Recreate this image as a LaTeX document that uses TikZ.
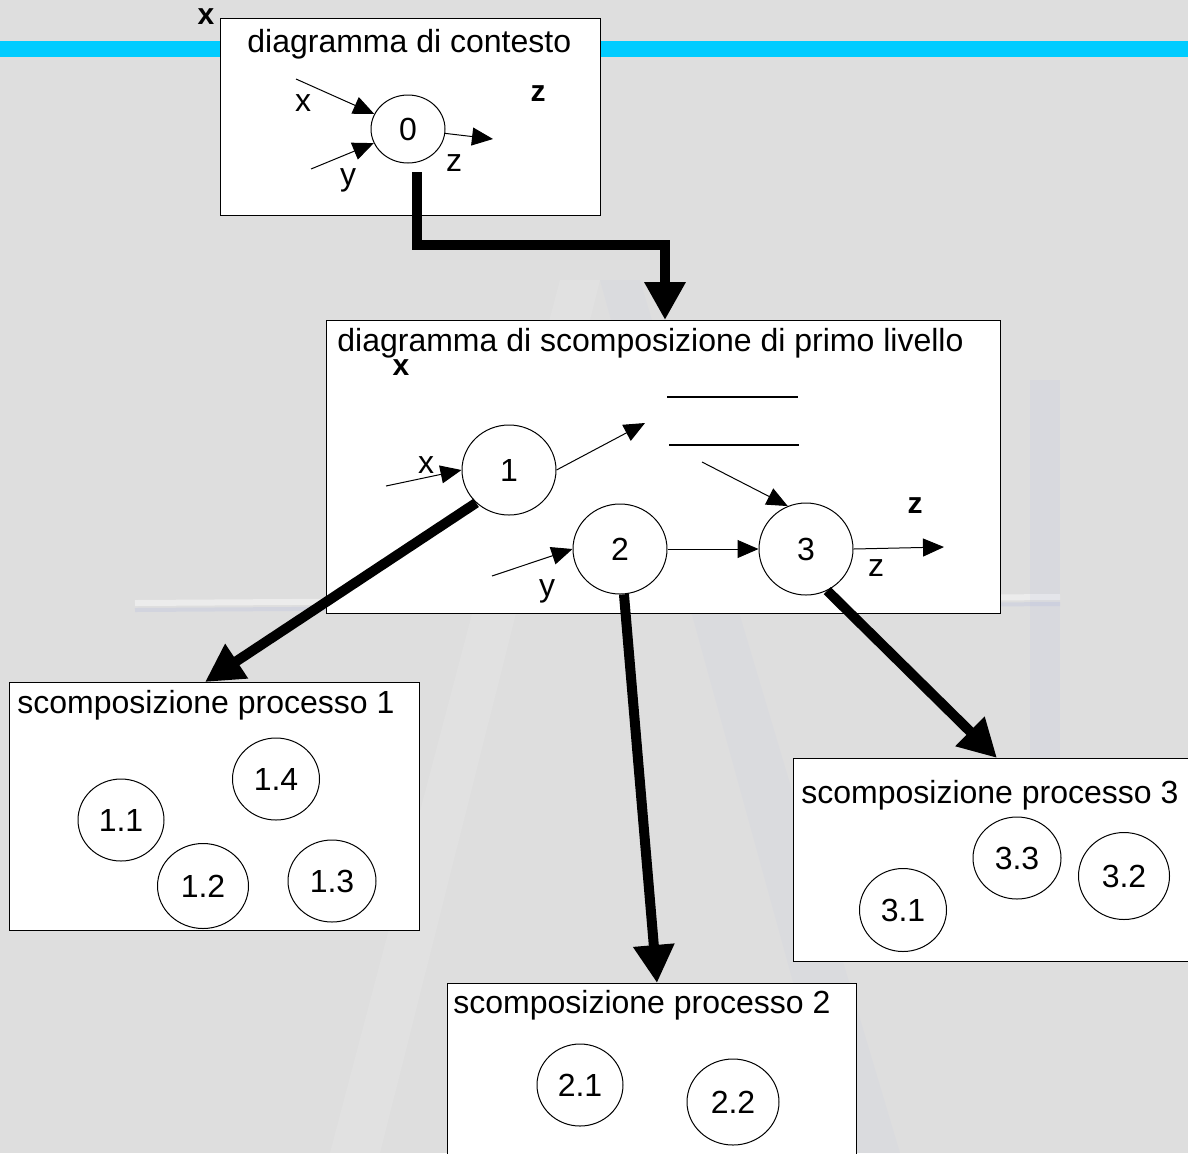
\documentclass[tikz,border=0pt]{standalone}
\usepackage{fontspec}
\setmainfont{Liberation Sans}
\usetikzlibrary{arrows.meta,shapes.geometric,calc}

\definecolor{bggray}{RGB}{222,222,222}
\definecolor{bandcyan}{RGB}{0,204,255}
\definecolor{markblue}{RGB}{176,186,222}

\begin{document}
\begin{tikzpicture}[x=0.5pt,y=-0.5pt,
  box/.style={draw=black,line width=0.65pt,fill=white,anchor=north west,inner sep=0pt,rectangle},
  title/.style={anchor=base west,inner sep=0pt,font=\fontsize{16}{19}\selectfont},
  proc/.style={draw=black,line width=0.5pt,fill=white,ellipse,inner sep=0pt,font=\fontsize{16}{19}\selectfont},
  lbl/.style={inner sep=0pt,font=\fontsize{16}{19}\selectfont},
  blbl/.style={inner sep=0pt,font=\fontsize{15}{18}\selectfont\bfseries},
  flow/.style={line width=0.5pt,-{Triangle[length=10.5pt,width=9pt]}},
  refine/.style={line width=5pt,line join=miter,-{Triangle[length=19pt,width=19.5pt]}},
  store/.style={line width=0.6pt}
]
% page and background
\useasboundingbox (0,0) rectangle (1188,1153);
\clip (0,0) rectangle (1188,1153);
\fill[bggray] (0,0) rectangle (1188,1153);

% faint logo in the background
\draw[white,opacity=0.45,line width=3pt] (135,603) -- (1060,597);
\draw[markblue,opacity=0.25,line width=2pt] (135,610) -- (1060,604);
\fill[markblue,opacity=0.08] (600,280) -- (640,280) -- (900,1153) -- (840,1153) -- cycle;
\fill[white,opacity=0.10] (560,280) -- (600,280) -- (380,1153) -- (330,1153) -- cycle;
\fill[markblue,opacity=0.12] (1030,380) -- (1060,380) -- (1060,780) -- (1030,780) -- cycle;

% title band
\fill[bandcyan] (0,41) rectangle (1188,57);

% frames
\node[box,minimum width=190pt,minimum height=98.5pt] (bA) at (220,18) {};
\node[box,minimum width=337pt,minimum height=146.5pt] (bB) at (326,320) {};
\node[box,minimum width=205pt,minimum height=124pt] (bC) at (9,682) {};
\node[box,minimum width=210pt,minimum height=101.5pt] (bD) at (793,758) {};
\node[box,minimum width=204.5pt,minimum height=100pt] (bE) at (447,983) {};

% frame titles
\node[title] (tA) at (247,52) {diagramma di contesto};
\node[title] (tB) at (337,351) {diagramma di scomposizione di primo livello};
\node[title] (tC) at (17,713) {scomposizione processo 1};
\node[title] (tD) at (801,803) {scomposizione processo 3};
\node[title] (tE) at (453,1013) {scomposizione processo 2};

% context diagram
\node[proc,minimum width=37pt,minimum height=34pt] (c0) at (408,129) {0};
\coordinate (inx0) at (296,79);
\coordinate (iny0) at (311,169);
\coordinate (outz0) at (493,139);
\draw[flow] (inx0) -- (c0);
\draw[flow] (iny0) -- (c0);
\draw[flow] (c0) -- (outz0);
\node[lbl] (lx0) at (303,103) {x};
\node[lbl] (ly0) at (348,180) {y};
\node[lbl] (lz0) at (454,163) {z};
\node[blbl] (bz0) at (538,94) {z};
\node[blbl] (bx0) at (206,17) {x};

% first level decomposition
\node[proc,minimum width=47pt,minimum height=45pt] (c1) at (509,470) {1};
\node[proc,minimum width=47pt,minimum height=45pt] (c2) at (620,549) {2};
\node[proc,minimum width=47pt,minimum height=46pt] (c3) at (806,549) {3};
\coordinate (inx1) at (386,486);
\coordinate (iny2) at (492,576);
\coordinate (out1) at (645,423);
\coordinate (st1) at (702,462);
\coordinate (outz3) at (944,547);
\draw[store] (667,397) -- (798,397);
\draw[store] (669,445) -- (799,445);
\draw[flow] (inx1) -- (c1.west);
\draw[flow] (iny2) -- (c2.west);
\draw[flow] (c1.east) -- (out1);
\draw[flow] (st1) -- (c3.113);
\draw[flow] (c2.east) -- (c3.west);
\draw[flow] (c3.east) -- (outz3);
\node[lbl] (lx1) at (426,465) {x};
\node[lbl] (ly2) at (547,591) {y};
\node[lbl] (lz3) at (876,568) {z};
\node[blbl] (bx1) at (401,368) {x};
\node[blbl] (bz3) at (915,506) {z};

% process 1 decomposition
\node[proc,minimum width=43pt,minimum height=41pt] (c11) at (121,820) {1.1};
\node[proc,minimum width=43.5pt,minimum height=41pt] (c14) at (276,779) {1.4};
\node[proc,minimum width=45.5pt,minimum height=42.5pt] (c12) at (203,886) {1.2};
\node[proc,minimum width=44pt,minimum height=41pt] (c13) at (332,881) {1.3};

% process 3 decomposition
\node[proc,minimum width=44pt,minimum height=41pt] (c33) at (1017,858) {3.3};
\node[proc,minimum width=45.5pt,minimum height=43.5pt] (c32) at (1124,876) {3.2};
\node[proc,minimum width=43.5pt,minimum height=41.5pt] (c31) at (903,910) {3.1};

% process 2 decomposition
\node[proc,minimum width=43pt,minimum height=41pt] (c21) at (580,1085) {2.1};
\node[proc,minimum width=46pt,minimum height=43pt] (c22) at (733,1102) {2.2};

% refinement arrows
\coordinate (e0) at (417,172);
\coordinate (elb) at (665,245);
\draw[refine] (e0) |- (elb) -- (elb |- bB.north);
\draw[refine] (c1.225) -- ($(bC.north west)+(196,0)$);
\draw[refine] (c2.275) -- ($(bE.north west)+(210,0)$);
\draw[refine] (c3.297) -- ($(bD.north west)+(204,0)$);
\end{tikzpicture}
\end{document}
